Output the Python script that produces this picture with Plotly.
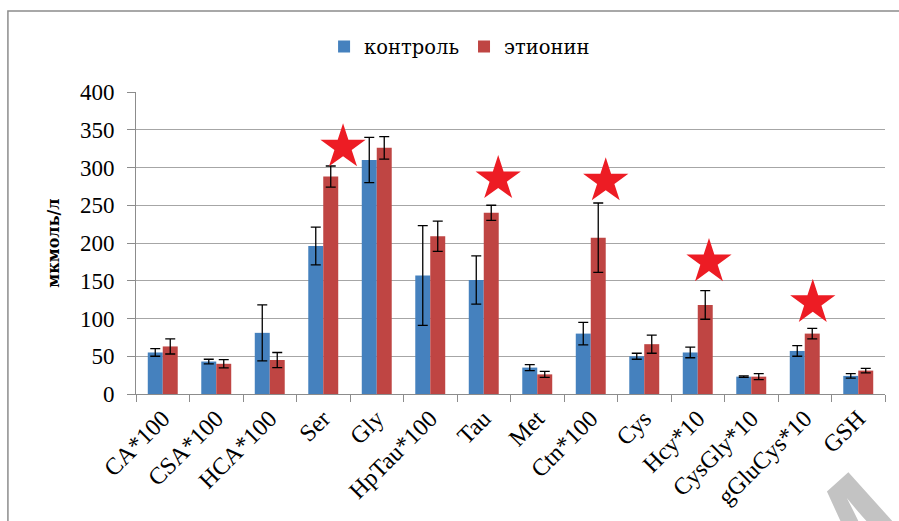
import plotly.graph_objects as go

categories = ["CA*100", "CSA*100", "HCA*100", "Ser", "Gly", "HpTau*100", "Tau",
              "Met", "Ctn*100", "Cys", "Hcy*10", "CysGly*10", "gGluCys*10", "GSH"]
control = [55, 43, 81, 196, 310, 157, 151, 35, 80, 50, 55, 23, 57, 24]
control_err = [5, 3, 37, 25, 30, 66, 32, 4, 15, 4, 7, 1, 7, 3]
ethionine = [63, 40, 45, 288, 326, 209, 240, 26, 207, 66, 118, 23, 80, 31]
ethionine_err = [10, 5.5, 10, 14, 15, 20, 10, 4, 46, 12, 19, 4, 7, 3]
star_categories = ["Ser", "Tau", "Ctn*100", "Hcy*10", "gGluCys*10"]
star_values = [327, 285, 282, 175, 121]
star_shift = [0.37, 0.27, 0.28, 0.21, 0.15]

BLUE = "#4581BE"
RED = "#BF4543"
FONT = "Liberation Serif, Times New Roman, serif"
CYR_FONT = "DejaVu Serif, Liberation Serif, serif"

fig = go.Figure()
fig.add_trace(go.Bar(
    name="контроль", x=categories, y=control, marker_color=BLUE,
    marker_line_width=0,
    error_y=dict(type="data", array=control_err, color="black", thickness=1.3, width=5),
))
fig.add_trace(go.Bar(
    name="этионин", x=categories, y=ethionine, marker_color=RED,
    marker_line_width=0,
    error_y=dict(type="data", array=ethionine_err, color="black", thickness=1.3, width=5),
))

star_x = [categories.index(c) + s for c, s in zip(star_categories, star_shift)]
fig.add_trace(go.Scatter(
    x=star_x, y=star_values, xaxis="x2", mode="markers",
    marker=dict(symbol="star", size=34, color="#ED1C24", line_width=0),
    showlegend=False, hoverinfo="skip",
))

fig.update_layout(
    width=899, height=521,
    margin=dict(l=136, r=14, t=92, b=127, autoexpand=False),
    plot_bgcolor="white", paper_bgcolor="white",
    barmode="group", bargap=0.44, bargroupgap=0,
    font=dict(family=FONT, color="black"),
    legend=dict(orientation="h", x=0.432, xanchor="center", y=1.15, yanchor="middle",
                font=dict(size=19.5, family=CYR_FONT), bgcolor="rgba(0,0,0,0)",
                traceorder="normal", itemwidth=30),
    xaxis=dict(type="category", tickson="boundaries", ticks="outside", ticklen=7,
               tickcolor="#8c8c8c", showline=True, linecolor="#8c8c8c", linewidth=1,
               tickangle=-45, tickfont=dict(size=24, family=FONT),
               showgrid=False, range=[-0.5, 13.5], automargin=False),
    xaxis2=dict(overlaying="x", range=[-0.5, 13.5], visible=False),
    yaxis=dict(range=[0, 400], dtick=50, showgrid=True, gridcolor="#a6a6a6", gridwidth=1,
               showline=True, linecolor="#8c8c8c", ticks="outside", ticklen=8,
               tickcolor="#8c8c8c", tickfont=dict(size=23, family=FONT),
               ticklabelstandoff=8, zeroline=False, automargin=False,
               title=dict(text="<b>мкмоль/л</b>", font=dict(size=16, family=CYR_FONT), standoff=16)),
    shapes=[dict(type="rect", xref="paper", yref="paper", x0=-0.171, x1=1.03,
                 y0=-0.46, y1=1.268, line=dict(color="#8c8c8c", width=1.5),
                 fillcolor="rgba(0,0,0,0)", layer="below")],
    annotations=[dict(text="<b>M</b>", xref="paper", yref="paper", x=0.945, y=-0.5,
                      xanchor="center", yanchor="middle", showarrow=False, textangle=-42,
                      font=dict(size=150, family="Liberation Sans", color="#c3c3c3"))],
)

fig.write_html("out.html")
